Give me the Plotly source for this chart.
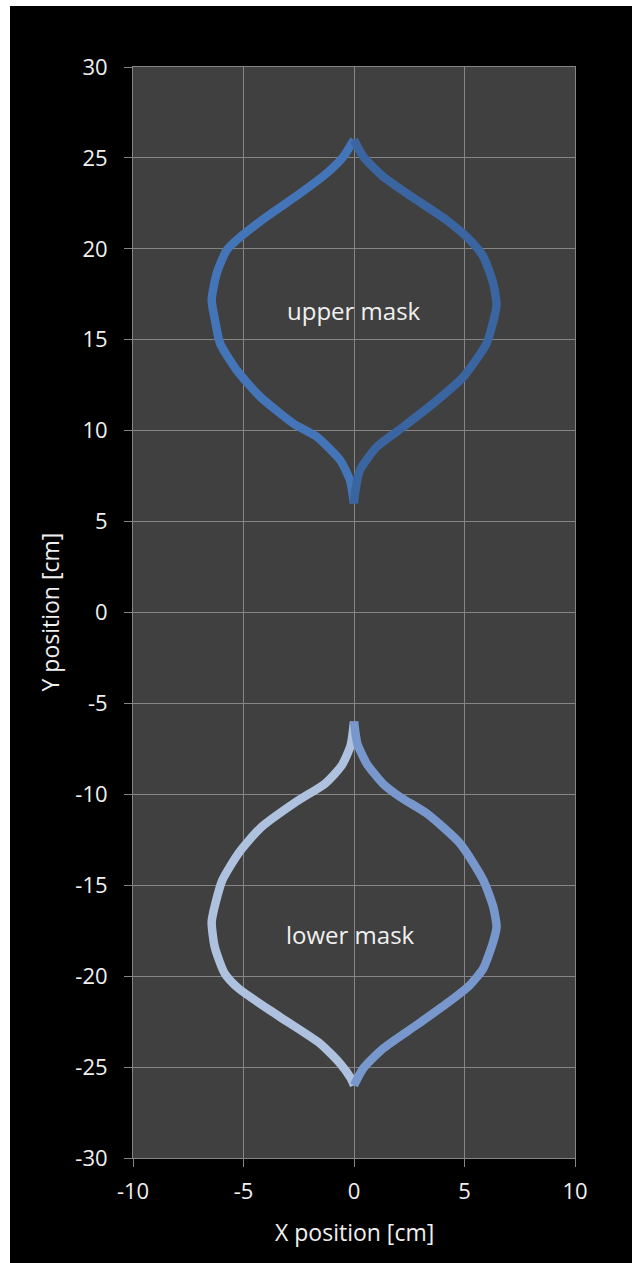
import plotly.graph_objects as go

# Mask outlines (cm), each mask drawn as a left and a right half
upper_left_x = [0.0, -0.48, -1.24, -2.44, -3.95, -5.31, -5.76, -6.21, -6.44, -6.29, -6.06, -5.31, -4.25, -2.75, -1.69, -0.63, -0.18, 0.0]
upper_left_y = [26.0, 25.07, 24.15, 23.05, 21.77, 20.48, 19.93, 18.65, 17.18, 16.08, 14.8, 13.33, 11.87, 10.4, 9.67, 8.38, 7.28, 6.0]

upper_right_x = [0.0, 0.42, 1.33, 2.84, 4.19, 5.25, 5.85, 6.3, 6.45, 6.3, 6.0, 4.95, 3.59, 2.23, 1.03, 0.27, 0.05, 0.0]
upper_right_y = [26.0, 25.07, 23.97, 22.68, 21.58, 20.48, 19.57, 18.1, 16.9, 16.0, 14.8, 12.96, 11.5, 10.21, 9.11, 7.83, 6.6, 6.0]

lower_left_x = [0.0, -0.15, -0.55, -1.3, -2.6, -4.25, -5.2, -5.95, -6.25, -6.44, -6.3, -5.85, -5.2, -3.4, -1.54, -0.63, -0.15, 0.0]
lower_left_y = [-6.0, -7.3, -8.4, -9.4, -10.4, -11.87, -13.2, -14.7, -15.9, -17.0, -18.4, -19.85, -20.7, -22.2, -23.7, -24.8, -25.6, -26.0]

lower_right_x = [0.0, 0.15, 0.57, 1.3, 2.08, 3.29, 4.8, 5.85, 6.3, 6.45, 6.3, 5.85, 5.25, 4.2, 2.84, 1.33, 0.42, 0.0]
lower_right_y = [-6.0, -7.2, -8.3, -9.4, -10.14, -11.05, -12.7, -14.72, -16.19, -17.29, -18.1, -19.57, -20.48, -21.5, -22.68, -23.97, -25.07, -26.0]

series = [
    ("upper mask (left)", upper_left_x, upper_left_y, "#4475B8"),
    ("upper mask (right)", upper_right_x, upper_right_y, "#3A65A0"),
    ("lower mask (left)", lower_left_x, lower_left_y, "#AEC1DF"),
    ("lower mask (right)", lower_right_x, lower_right_y, "#7898CD"),
]

x_ticks = [-10, -5, 0, 5, 10]
y_ticks = [-30, -25, -20, -15, -10, -5, 0, 5, 10, 15, 20, 25, 30]

FONT = "Open Sans"
TEXT = "#F0F0F0"
GRID = "#858585"

W, H = 632, 1263
ML, MR, MT, MB = 133, 57, 67, 105
PW, PH = W - ML - MR, H - MT - MB

fig = go.Figure()
for name, xs, ys, col in series:
    fig.add_trace(go.Scatter(
        x=xs, y=ys, mode="lines", name=name,
        line=dict(color=col, width=8.5, shape="spline", smoothing=0.6),
        hoverinfo="skip",
    ))

axis_common = dict(
    showgrid=True, gridcolor=GRID, gridwidth=1,
    showline=True, linecolor=GRID, linewidth=1, mirror=True,
    ticks="outside", ticklen=8, tickcolor=GRID, tickwidth=1,
    tickfont=dict(family=FONT, size=22, color=TEXT),
    zeroline=False, fixedrange=True,
)

fig.update_layout(
    width=W, height=H,
    margin=dict(l=ML, r=MR, t=MT, b=MB, pad=0),
    paper_bgcolor="#000000", plot_bgcolor="#404040",
    showlegend=False,
    xaxis=dict(range=[-10, 10], tickvals=x_ticks, ticktext=[str(v) for v in x_ticks],
               ticklabelstandoff=6, **axis_common),
    yaxis=dict(range=[-30, 30], tickvals=y_ticks, ticktext=[str(v) for v in y_ticks],
               ticklabelstandoff=12, **axis_common),
    annotations=[
        dict(text="upper mask", x=0, y=16.6, xref="x", yref="y", showarrow=False,
             font=dict(family=FONT, size=24, color=TEXT)),
        dict(text="lower mask", x=-0.15, y=-17.7, xref="x", yref="y", showarrow=False,
             font=dict(family=FONT, size=24, color=TEXT)),
        dict(text="X position [cm]", x=0.5, y=(H - 1232 - MB) / PH, xref="paper", yref="paper",
             showarrow=False, xanchor="center", yanchor="middle",
             font=dict(family=FONT, size=23, color=TEXT)),
        dict(text="Y position [cm]", x=(49 - ML) / PW, y=0.5, xref="paper", yref="paper",
             showarrow=False, xanchor="center", yanchor="middle", textangle=-90,
             font=dict(family=FONT, size=23, color=TEXT)),
    ],
    shapes=[
        # white strips along the left and top edges of the page
        dict(type="rect", xref="paper", yref="paper", layer="above",
             x0=-ML / PW, x1=(10 - ML) / PW, y0=-MB / PH, y1=(H - MB) / PH,
             fillcolor="#FFFFFF", line=dict(width=0)),
        dict(type="rect", xref="paper", yref="paper", layer="above",
             x0=-ML / PW, x1=(W - ML) / PW, y0=(H - MB - 6) / PH, y1=(H - MB) / PH,
             fillcolor="#FFFFFF", line=dict(width=0)),
    ],
)

fig.write_html("out.html", post_script="document.body.style.background='#000';")
